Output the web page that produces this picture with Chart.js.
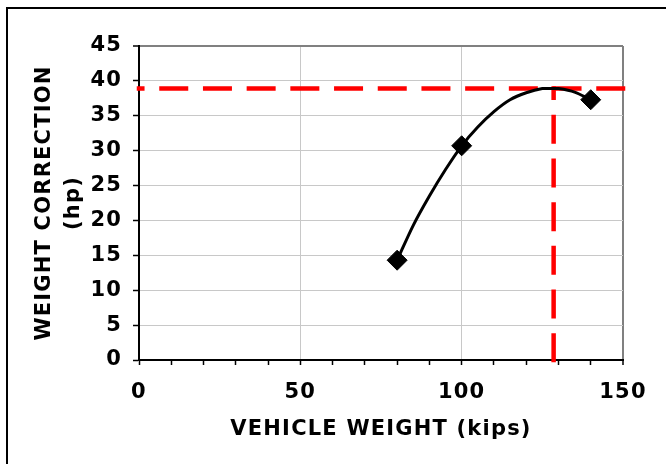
<!DOCTYPE html>
<html>
<head>
<meta charset="utf-8">
<script src="https://cdn.jsdelivr.net/npm/chart.js@4/dist/chart.umd.min.js"></script>
<style>
  html, body { margin: 0; padding: 0; background: #fff; overflow: hidden; }
  #wrap { position: absolute; left: 0; top: 0; width: 666px; height: 464px; }
</style>
</head>
<body>
<div id="wrap"><canvas id="chart"></canvas></div>
<script>
// measured points
const weights = [80, 100, 140];
const corrections = [14.3, 30.7, 37.3];

// fitted curve
const curveWeights = [80, 85, 90, 95, 100, 105, 110, 115, 120, 125, 128, 130, 135, 140];
const curveValues = [14.3, 19.3, 23.5, 27.3, 30.7, 33.4, 35.6, 37.3, 38.3, 38.9, 38.9, 38.9, 38.4, 37.3];

// red guide lines (drawn from the far end towards the axis)
const hLineX = [150, 0];
const hLineY = [38.9, 38.9];
const vLineX = [128.5, 128.5];
const vLineY = [0, 38.9];

const xTickLabels = [0, 50, 100, 150];

const pts = (xs, ys) => xs.map((x, i) => ({ x: x, y: ys[i] }));

const font = { family: '"DejaVu Sans", Verdana, sans-serif', weight: 'bold', size: 21 };

// wider, Verdana-like lettering and the outer frame of the chart object
const sheet = {
    id: 'sheet',
    beforeUpdate(chart) { chart.ctx.letterSpacing = '1.2px'; },
    beforeDraw(chart) {
        const ctx = chart.ctx;
        ctx.letterSpacing = '1.2px';
        ctx.save();
        ctx.strokeStyle = '#000';
        ctx.lineWidth = 2;
        ctx.beginPath();
        ctx.moveTo(7, chart.height);
        ctx.lineTo(7, 8);
        ctx.lineTo(chart.width, 8);
        ctx.stroke();
        ctx.restore();
    }
};

new Chart(document.getElementById('chart'), {
    type: 'scatter',
    data: {
        datasets: [{
            data: pts(weights, corrections),
            pointStyle: 'rectRot',
            pointRadius: 10,
            backgroundColor: '#000',
            borderColor: '#000',
            borderWidth: 1,
            showLine: false,
            order: 0
        }, {
            data: pts(curveWeights, curveValues),
            showLine: true,
            pointRadius: 0,
            borderColor: '#000',
            borderWidth: 3,
            tension: 0.3,
            order: 1
        }, {
            data: pts(hLineX, hLineY),
            showLine: true,
            pointRadius: 0,
            borderColor: '#ff0000',
            borderWidth: 4.5,
            borderDash: [24.5, 19.2],
            borderCapStyle: 'square',
            clip: false,
            order: 2
        }, {
            data: pts(vLineX, vLineY),
            showLine: true,
            pointRadius: 0,
            borderColor: '#ff0000',
            borderWidth: 4.5,
            borderDash: [24.5, 19.2],
            borderCapStyle: 'square',
            clip: false,
            order: 2
        }]
    },
    options: {
        responsive: true,
        maintainAspectRatio: false,
        animation: false,
        layout: { padding: { left: 0, top: 46, right: 43, bottom: 0 } },
        scales: {
            x: {
                type: 'linear',
                min: 0,
                max: 150,
                afterFit: function(scale) { scale.height = 104; },
                ticks: {
                    stepSize: 10,
                    autoSkip: false,
                    maxRotation: 0,
                    color: '#000',
                    font: font,
                    padding: 15,
                    callback: function(v) { return xTickLabels.includes(v) ? String(v) : ''; }
                },
                grid: {
                    color: function(ctx) {
                        const v = ctx.tick.value;
                        if (v === 150) return '#808080';
                        if (v === 50 || v === 100) return '#c8c8c8';
                        return 'rgba(0,0,0,0)';
                    },
                    lineWidth: function(ctx) { return ctx.tick.value === 150 ? 2 : 1; },
                    tickColor: '#000',
                    tickLength: 5,
                    tickWidth: 1.5
                },
                border: { color: '#000', width: 2 },
                title: {
                    display: true,
                    text: 'VEHICLE WEIGHT (kips)',
                    color: '#000',
                    font: font,
                    padding: { top: 0, bottom: 22 }
                }
            },
            y: {
                min: 0,
                max: 45,
                afterFit: function(scale) { scale.width = 139; },
                ticks: {
                    stepSize: 5,
                    color: '#000',
                    font: font,
                    padding: 11
                },
                grid: {
                    color: function(ctx) {
                        const v = ctx.tick.value;
                        if (v === 45) return '#808080';
                        if (v === 0) return 'rgba(0,0,0,0)';
                        return '#c8c8c8';
                    },
                    lineWidth: function(ctx) { return ctx.tick.value === 45 ? 2 : 1; },
                    tickColor: '#000',
                    tickLength: 6,
                    tickWidth: 1.5
                },
                border: { color: '#000', width: 2 },
                title: {
                    display: true,
                    text: ['WEIGHT CORRECTION', '(hp)'],
                    color: '#000',
                    font: Object.assign({}, font, { lineHeight: '29px' }),
                    padding: { top: 30, bottom: 0 }
                }
            }
        },
        plugins: {
            legend: { display: false },
            tooltip: { enabled: false }
        }
    },
    plugins: [sheet]
});
</script>
</body>
</html>
